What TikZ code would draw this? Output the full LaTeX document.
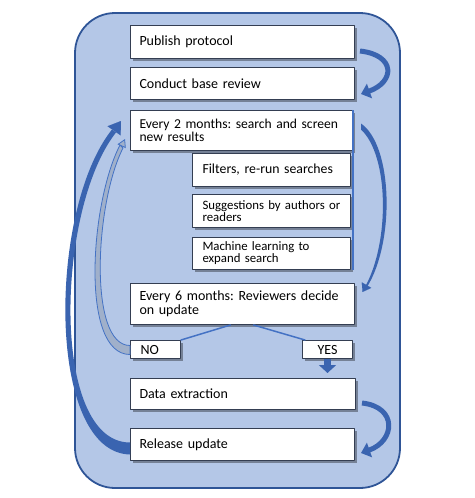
\documentclass[tikz,border=0pt]{standalone}
\usepackage{fontspec}
\setmainfont{Carlito}
\usetikzlibrary{arrows.meta,calc,shadows}
\definecolor{panelfill}{RGB}{180,199,231}
\definecolor{paneledge}{RGB}{47,85,151}
\definecolor{boxedge}{RGB}{52,62,82}
\definecolor{arrowblue}{RGB}{58,100,176}
\definecolor{linkblue}{RGB}{68,114,196}
\definecolor{nofill}{RGB}{160,176,202}
\frenchspacing

\begin{document}
\begin{tikzpicture}[x=1pt,y=-1pt,line cap=round,line join=round,
  mainbox/.style={draw=boxedge, line width=1pt, fill=white, anchor=north west,
    inner xsep=9pt, inner ysep=0pt, align=left, text width=206pt,
    font=\fontsize{14}{13.5}\selectfont,
    drop shadow={shadow xshift=2.5pt,shadow yshift=-2.5pt,opacity=0.35,fill=black}},
  subbox/.style={mainbox, inner xsep=10pt, text width=138pt, minimum height=33pt,
    font=\fontsize{12.8}{11}\selectfont},
  tagbox/.style={mainbox, inner xsep=10pt, text width=30pt, minimum height=18pt},
  link/.style={draw=linkblue, line width=1.5pt},
  bendarrow/.style={draw=arrowblue, line width=5pt, line cap=butt,
    -{Triangle[width=15pt,length=9pt]}}]
  \path[use as bounding box] (0,0) rectangle (474,498);

  % panel behind the cycle
  \draw[paneledge, fill=panelfill, line width=1.8pt, rounded corners=40pt]
    (75,13) rectangle (400,488);

  % steps
  \node[mainbox, minimum height=33pt] (pub) at (130,25) {Publish protocol};
  \node[mainbox, minimum height=32pt] (base) at (130,67) {Conduct base review};
  \node[mainbox, text width=204pt, minimum height=40pt, font=\fontsize{13.6}{13}\selectfont]
    (two) at (130,110) {\mbox{Every 2 months: search and screen}\\new results};
  \node[subbox, font=\fontsize{13.8}{12}\selectfont] (filt) at (192,153) {Filters, re-run searches};
  \node[subbox] (sugg) at (192,194) {Suggestions by authors or\\readers};
  \node[subbox, minimum height=32pt] (ml) at (192,237) {Machine learning to\\expand search};
  \node[mainbox, minimum height=41pt] (six) at (130,283)
    {Every 6 months: Reviewers decide\\on update};
  \node[tagbox] (no) at (130,340) {NO};
  \node[tagbox, align=center] (yes) at (302,340) {YES};
  \node[mainbox, text width=207pt, minimum height=31pt] (data) at (130,378) {Data extraction};
  \node[mainbox, minimum height=32pt] (rel) at (130,428) {Release update};

  % bracket of the search sources
  \draw[linkblue, line width=2.5pt, line cap=butt] (two.north east) -- (two.north east |- ml.south);

  % decision
  \draw[link] ([xshift=-12pt]six.south) -- (no.north east);
  \draw[link] ([xshift=11pt]six.south) -- ([xshift=3pt]yes.north west);
  \draw[arrowblue, line width=7pt, line cap=butt, -{Triangle[width=17pt,length=8pt]},
    shorten >=5pt] (yes.south) -- (yes.south |- data.north);

  % right hand bends
  \draw[bendarrow] ([xshift=5pt,yshift=8pt]pub.south east)
    .. controls +(36,4) and +(34,-12) .. ([xshift=6pt,yshift=6pt]base.south east);
  \draw[bendarrow] ([xshift=6pt,yshift=7pt]data.south east)
    .. controls +(36,4) and +(34,-12) .. ([xshift=6pt,yshift=8pt]rel.south east);
  \fill[arrowblue] ([xshift=8pt,yshift=7pt]two.east)
    .. controls +(32,22) and +(28,-45) .. ($(six.north east)+(12,4)$)
    -- ($(six.north east)+(10,4)$)
    .. controls +(25,-45) and +(28,26) .. ([xshift=8pt,yshift=1pt]two.east) -- cycle;
  \draw[arrowblue, line width=0.1pt, -{Triangle[width=11pt,length=8pt]}]
    ($(six.north east)+(11,3)$) -- ++(-3.5,6);

  % back to the next search
  \fill[arrowblue] ($(rel.west)+(0,10)$)
    .. controls +(-84,-2) and +(-64,80) .. ($(two.west)+(-18,-1)$)
    -- ($(two.west)+(-14,2)$)
    .. controls +(-60,76) and +(-80,0) .. ($(rel.west)+(0,-2)$) -- cycle;
  \draw[arrowblue, line width=0.1pt, -{Triangle[width=16pt,length=12pt]}]
    ($(two.west)+(-16,0.5)$) -- ++(7,-10);
  \filldraw[draw=linkblue, fill=nofill, line width=0.8pt] ($(no.west)+(0,5)$)
    .. controls +(-50,0) and +(-30,58) .. ($(two.south west)+(-10,-6)$)
    -- ($(two.south west)+(-7,-3)$)
    .. controls +(-28,55) and +(-42,0) .. ($(no.west)+(0,-4)$) -- cycle;
  \draw[linkblue, fill=nofill, line width=0.8pt, -{Triangle[open,width=9pt,length=8pt,fill=nofill]}]
    ($(two.south west)+(-8.5,-4.5)$) -- ++(3.5,-7.5);
\end{tikzpicture}
\end{document}
